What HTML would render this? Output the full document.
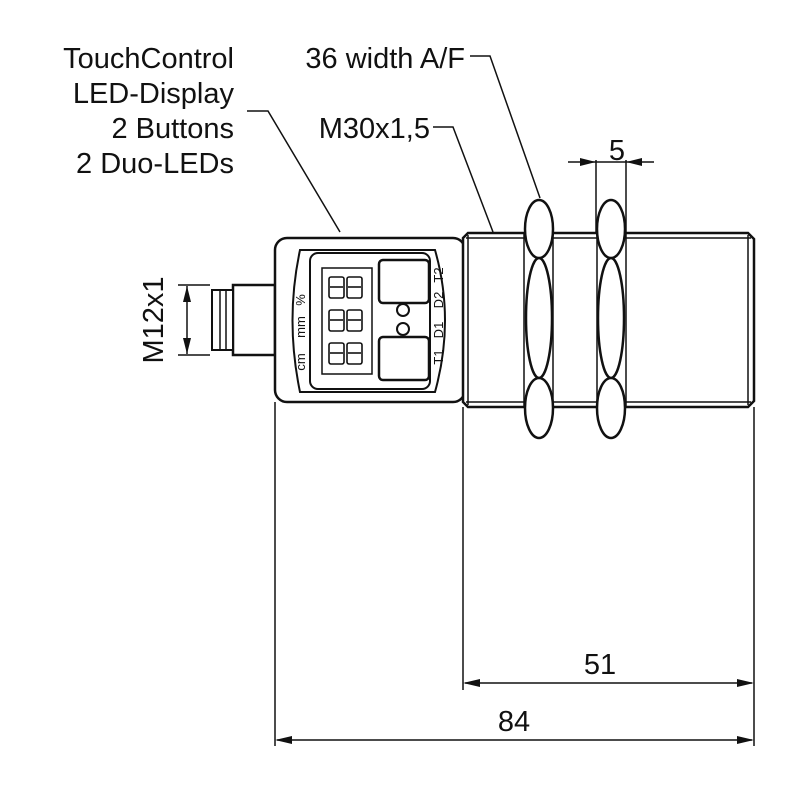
<!DOCTYPE html><html><head><meta charset="utf-8"><style>body{margin:0;background:#fff}</style></head><body>
<svg width="800" height="800" viewBox="0 0 800 800" xmlns="http://www.w3.org/2000/svg" font-family="Liberation Sans, sans-serif">
<rect width="800" height="800" fill="#fff"/>
<g font-size="29" fill="#111" text-anchor="end">
<text x="234" y="68">TouchControl</text>
<text x="234" y="103">LED-Display</text>
<text x="234" y="138">2 Buttons</text>
<text x="234" y="173">2 Duo-LEDs</text>
<text x="430" y="138">M30x1,5</text>
<text x="465" y="68">36 width A/F</text>
<text x="617" y="160" text-anchor="middle">5</text>
<text x="600" y="674" text-anchor="middle">51</text>
<text x="514" y="731" text-anchor="middle">84</text>
<text transform="translate(163,320) rotate(-90)" text-anchor="middle">M12x1</text>
</g>
<g fill="none" stroke="#111" stroke-width="1.5">
<polyline points="247,111 268,111 340,232"/>
<polyline points="433,127 453,127 493,232"/>
<polyline points="470,56 490,56 540,198"/>
<!-- extension lines -->
<line x1="275" y1="402" x2="275" y2="746"/>
<line x1="463" y1="407" x2="463" y2="690"/>
<line x1="754" y1="407" x2="754" y2="746"/>
<line x1="277" y1="740" x2="752" y2="740"/>
<line x1="465" y1="683" x2="752" y2="683"/>
<line x1="596" y1="160" x2="596" y2="260"/>
<line x1="626" y1="160" x2="626" y2="260"/>
<line x1="568" y1="162" x2="654" y2="162"/>
<line x1="187" y1="286" x2="187" y2="354"/>
<line x1="178" y1="285" x2="210" y2="285"/>
<line x1="178" y1="355" x2="210" y2="355"/>
</g>
<g fill="#111">
<polygon points="275,740 292,736 292,744"/>
<polygon points="754,740 737,736 737,744"/>
<polygon points="463,683 480,679 480,687"/>
<polygon points="754,683 737,679 737,687"/>
<polygon points="596,162 580,158 580,166"/>
<polygon points="626,162 642,158 642,166"/>
<polygon points="187,286 183,302 191,302"/>
<polygon points="187,354 183,338 191,338"/>
</g>
<g fill="#fff" stroke="#111" stroke-width="2.5">
<!-- connector -->
<rect x="233" y="285" width="42" height="70"/>
<rect x="212" y="290" width="21" height="60" stroke-width="2"/>
<line x1="220" y1="291" x2="220" y2="349" stroke-width="1.5"/>
<line x1="226" y1="291" x2="226" y2="349" stroke-width="1.5"/>
<!-- housing -->
<rect x="275" y="238" width="190" height="164" rx="12"/>
<!-- barrel -->
<path d="M468,233 L748,233 L754,239 L754,401 L748,407 L468,407 L463,402 L463,238 Z"/>
<line x1="466" y1="238" x2="751" y2="238" stroke-width="1.5"/>
<line x1="466" y1="402" x2="751" y2="402" stroke-width="1.5"/>
<line x1="748" y1="235" x2="748" y2="405" stroke-width="1.5"/>
<line x1="468" y1="235" x2="468" y2="405" stroke-width="1.5"/>
<!-- front panel -->
<path d="M300,250 L435,250 Q455,320 435,392 L300,392 Q285,320 300,250 Z" stroke-width="2"/>
<rect x="310" y="253" width="120" height="136" rx="8" stroke-width="2"/>
<rect x="322" y="268" width="50" height="106" stroke-width="1.5"/>
<rect x="379" y="260" width="50" height="43" rx="4" stroke-width="2.5"/>
<rect x="379" y="337" width="50" height="43" rx="4" stroke-width="2.5"/>
<circle cx="403" cy="310" r="6" stroke-width="2"/>
<circle cx="403" cy="329" r="6" stroke-width="2"/>
</g>
<g fill="none" stroke="#111" stroke-width="1.6">
<rect x="329" y="277" width="15" height="21" rx="2"/><rect x="347" y="277" width="15" height="21" rx="2"/>
<line x1="330" y1="287" x2="343" y2="287"/><line x1="348" y1="287" x2="361" y2="287"/>
<rect x="329" y="310" width="15" height="21" rx="2"/><rect x="347" y="310" width="15" height="21" rx="2"/>
<line x1="330" y1="320" x2="343" y2="320"/><line x1="348" y1="320" x2="361" y2="320"/>
<rect x="329" y="343" width="15" height="21" rx="2"/><rect x="347" y="343" width="15" height="21" rx="2"/>
<line x1="330" y1="353" x2="343" y2="353"/><line x1="348" y1="353" x2="361" y2="353"/>
</g>
<g font-size="13" fill="#111" text-anchor="middle">
<text transform="translate(305,300) rotate(-90)">%</text>
<text transform="translate(305,327) rotate(-90)">mm</text>
<text transform="translate(305,362) rotate(-90)">cm</text>
<text transform="translate(443,275) rotate(-90)">T2</text>
<text transform="translate(443,300) rotate(-90)">D2</text>
<text transform="translate(443,330) rotate(-90)">D1</text>
<text transform="translate(443,357) rotate(-90)">T1</text>
</g>
<!-- nuts -->
<g fill="#fff" stroke="#111" stroke-width="2.5">
<line x1="524" y1="233" x2="524" y2="407" stroke-width="1.5"/>
<line x1="553" y1="233" x2="553" y2="407" stroke-width="1.5"/>
<ellipse cx="539" cy="318" rx="13" ry="60"/>
<ellipse cx="539" cy="229" rx="14" ry="29"/>
<ellipse cx="539" cy="408" rx="14" ry="30"/>
<line x1="597" y1="233" x2="597" y2="407" stroke-width="1.5"/>
<line x1="626" y1="233" x2="626" y2="407" stroke-width="1.5"/>
<ellipse cx="611" cy="318" rx="13" ry="60"/>
<ellipse cx="611" cy="229" rx="14" ry="29"/>
<ellipse cx="611" cy="408" rx="14" ry="30"/>
</g>
</svg>
</body></html>
